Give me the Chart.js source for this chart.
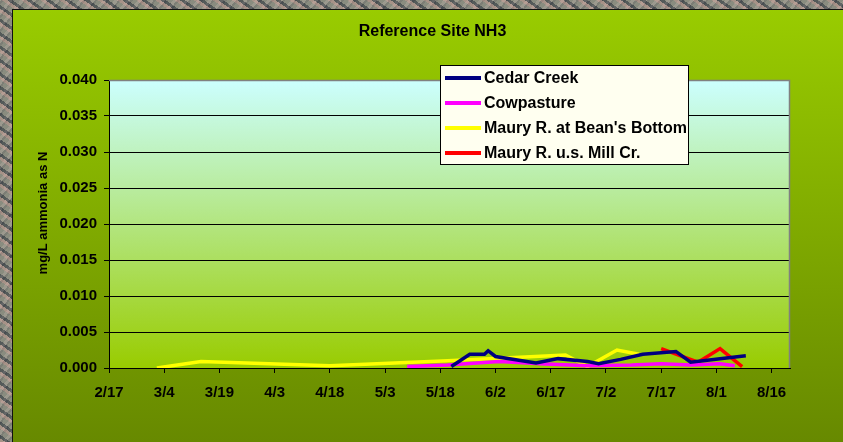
<!DOCTYPE html>
<html>
<head>
<meta charset="utf-8">
<title>Reference Site NH3</title>
<script src="https://cdn.jsdelivr.net/npm/chart.js@4/dist/chart.umd.min.js"></script>
<style>
  html, body { margin: 0; padding: 0; }
  body {
    width: 843px; height: 442px; overflow: hidden; position: relative;
    background-color: #7b7e76;
    background-image:
      repeating-linear-gradient(35deg, rgba(205,165,155,0.55) 0 3px, rgba(55,62,70,0.55) 3px 6px, rgba(160,160,145,0.45) 6px 11px),
      repeating-linear-gradient(-50deg, rgba(40,45,50,0.35) 0 2px, rgba(220,200,190,0.3) 2px 5px, rgba(110,120,100,0.3) 5px 9px);
  }
  #panel {
    position: absolute; left: 12px; top: 9px; width: 830px; height: 432px;
    border-left: 1px solid #111; border-top: 1px solid #111;
    background: linear-gradient(#99cc00, #678900);
  }
  #chart { position: absolute; left: 0; top: 0; }
</style>
</head>
<body>
<div id="panel"><canvas id="chart" width="830" height="432"></canvas></div>
<script>
// data (dates are M/D)
const tickLabels = ['2/17', '3/4', '3/19', '4/3', '4/18', '5/3', '5/18', '6/2', '6/17', '7/2', '7/17', '8/1', '8/16'];
const yTicks = [0, 0.005, 0.010, 0.015, 0.020, 0.025, 0.030, 0.035, 0.040];

const cedarDates = ['5/21', '5/26', '5/30', '5/31', '6/2', '6/13', '6/19', '6/27', '6/30', '7/6', '7/12', '7/21', '7/25', '8/2', '8/9'];
const cedarValues = [0.0002, 0.0019, 0.0019, 0.0024, 0.0016, 0.0007, 0.0013, 0.0009, 0.0006, 0.0012, 0.0019, 0.0023, 0.0008, 0.0013, 0.0017];

const cowDates = ['5/9', '5/20', '6/3', '6/14', '6/27', '7/9', '7/17', '7/25', '8/2', '8/6'];
const cowValues = [0.0002, 0.0004, 0.0009, 0.0006, 0.0003, 0.0004, 0.0006, 0.0004, 0.0006, 0.0003];

const beanDates = ['3/2', '3/14', '4/18', '5/20', '6/21', '6/27', '7/5', '7/11'];
const beanValues = [0.0000, 0.0009, 0.0003, 0.0010, 0.0018, 0.0002, 0.0025, 0.0019];

const millDates = ['7/17', '7/27', '8/2', '8/8'];
const millValues = [0.0027, 0.0008, 0.0027, 0.0002];

const seriesNames = ['Cedar Creek', 'Cowpasture', "Maury R. at Bean's Bottom", 'Maury R. u.s. Mill Cr.'];
const seriesColors = ['#000080', '#ff00ff', '#ffff00', '#ff0000'];

const monthStart = [0, 31, 59, 90, 120, 151, 181, 212, 243, 273, 304, 334];
function dayOfYear(md) {
  const [m, d] = md.split('/').map(Number);
  return monthStart[m - 1] + d;
}
function dayLabel(day) {
  let m = 11;
  while (monthStart[m] >= day) m--;
  return (m + 1) + '/' + (day - monthStart[m]);
}
function points(dates, values) {
  return dates.map((d, i) => ({ x: dayOfYear(d), y: values[i] }));
}

const tickDays = tickLabels.map(dayOfYear);
const font = "'Liberation Sans', Arial, sans-serif";

const chartDecor = {
  id: 'chartDecor',
  beforeDraw(chart) {
    const { ctx, chartArea: a } = chart;
    const g = ctx.createLinearGradient(0, a.top, 0, a.bottom);
    g.addColorStop(0, '#ccffff');
    g.addColorStop(1, '#99cc00');
    ctx.save();
    ctx.fillStyle = g;
    ctx.fillRect(a.left, a.top, a.right - a.left, a.bottom - a.top);
    ctx.restore();
  },
  afterDraw(chart) {
    const { ctx, chartArea: a } = chart;
    ctx.save();
    // gray frame on top and right
    ctx.strokeStyle = '#808080';
    ctx.lineWidth = 1.5;
    ctx.beginPath();
    ctx.moveTo(a.left, a.top + 0.5);
    ctx.lineTo(a.right - 0.5, a.top + 0.5);
    ctx.lineTo(a.right - 0.5, a.bottom);
    ctx.stroke();

    // chart title
    ctx.fillStyle = '#000';
    ctx.font = 'bold 16px ' + font;
    ctx.textAlign = 'center';
    ctx.textBaseline = 'middle';
    ctx.fillText('Reference Site NH3', 419.5, 22);

    // y axis title
    ctx.font = 'bold 13px ' + font;
    ctx.translate(30, 203);
    ctx.rotate(-Math.PI / 2);
    ctx.fillText('mg/L ammonia as N', 0, 0);
    ctx.setTransform(1, 0, 0, 1, 0, 0);

    // legend box
    const bx = 427, by = 55, bw = 248, bh = 99;
    ctx.fillStyle = '#fffff0';
    ctx.fillRect(bx, by, bw, bh);
    ctx.strokeStyle = '#000';
    ctx.lineWidth = 1;
    ctx.strokeRect(bx + 0.5, by + 0.5, bw, bh);
    ctx.font = 'bold 16px ' + font;
    ctx.textAlign = 'left';
    chart.data.datasets.forEach((ds, i) => {
      const y = by + 13 + i * 25;
      ctx.strokeStyle = ds.borderColor;
      ctx.lineWidth = 4;
      ctx.beginPath();
      ctx.moveTo(bx + 5, y);
      ctx.lineTo(bx + 41, y);
      ctx.stroke();
      ctx.fillStyle = '#000';
      ctx.fillText(ds.label, bx + 44, y + 1);
    });
    ctx.restore();
  }
};

const allSeries = [
  points(cedarDates, cedarValues),
  points(cowDates, cowValues),
  points(beanDates, beanValues),
  points(millDates, millValues)
];

new Chart(document.getElementById('chart'), {
  type: 'line',
  data: {
    datasets: allSeries.map((data, i) => ({
      label: seriesNames[i],
      data,
      borderColor: seriesColors[i],
      backgroundColor: seriesColors[i],
      borderWidth: 3.5,
      pointRadius: 0,
      tension: 0,
      fill: false
    }))
  },
  options: {
    responsive: false,
    animation: false,
    devicePixelRatio: 1,
    layout: { padding: { left: 0, right: 53, top: 70, bottom: 0 } },
    plugins: {
      legend: { display: false },
      tooltip: { enabled: false },
      title: { display: false }
    },
    scales: {
      x: {
        type: 'linear',
        min: dayOfYear('2/17'),
        max: dayOfYear('8/16') + 5,
        afterBuildTicks: (scale) => { scale.ticks = tickDays.map(v => ({ value: v })); },
        afterFit: (scale) => { scale.height = 74; },
        ticks: {
          callback: (v) => dayLabel(v),
          color: '#000',
          font: { family: font, size: 15, weight: 'bold' },
          padding: 11,
          maxRotation: 0,
          autoSkip: false
        },
        grid: { drawOnChartArea: false, drawTicks: true, tickLength: 5, color: '#000' },
        border: { color: '#000', width: 1 }
      },
      y: {
        min: 0,
        max: 0.04,
        afterBuildTicks: (scale) => { scale.ticks = yTicks.map(v => ({ value: v })); },
        afterFit: (scale) => { scale.width = 96; },
        ticks: {
          callback: (v) => v.toFixed(3),
          color: '#000',
          font: { family: font, size: 15, weight: 'bold' },
          padding: 7
        },
        grid: { color: '#000', lineWidth: 1, tickLength: 5 },
        border: { color: '#000', width: 1 }
      }
    }
  },
  plugins: [chartDecor]
});
</script>
</body>
</html>
